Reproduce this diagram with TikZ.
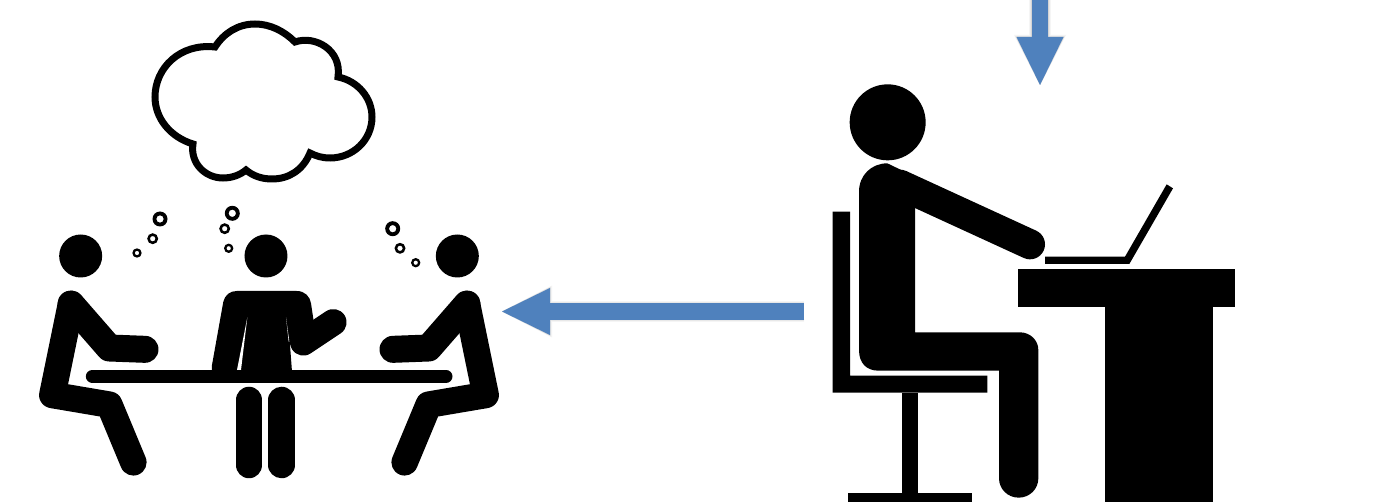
\documentclass[tikz,border=0pt]{standalone}
\usetikzlibrary{arrows.meta}
\definecolor{arrowblue}{HTML}{4F81BD}
\tikzset{
  ink/.style={fill=black,draw=none},
  limb/.style={draw=black,line cap=round,line join=round,line width=#1},
  limb/.default=26.5pt,
  ring/.style={fill=black,draw=none,even odd rule},
  cloudline/.style={draw=black,fill=white,line width=7pt,line join=miter},
  zoomA/.style={x=0.33333pt,y=-0.33333pt,shift={(0pt,-230pt)}},
  zoomB/.style={x=0.33333pt,y=-0.33333pt,shift={(800pt,0pt)}},
  blockarrow/.style={line width=16.5pt,-{Triangle[length=48pt,width=47pt,line width=0pt]}},
  shadowA/.style={draw=black!4,color=black!4,line width=21.5pt,-{Triangle[length=50pt,width=52pt,line width=0pt]}},
  shadowB/.style={draw=black!9,color=black!9,line width=19.5pt,-{Triangle[length=49pt,width=50pt,line width=0pt]}},
  shadowC/.style={draw=black!17,color=black!17,line width=17.5pt,-{Triangle[length=48pt,width=48pt,line width=0pt]}},
}
% one seated person at the table, in zoom coordinates
\newcommand{\sideperson}{%
  \fill (242,78) circle (64.5);
  \draw[limb] (213,222) -- (157,495) -- (328,524) -- (400,697);
  \draw[limb=27pt] (213,222) -- (328,354) -- (435,358);
}
\begin{document}
\begin{tikzpicture}[x=1pt,y=-1pt]
\useasboundingbox (0,0) rectangle (1375,502);
\clip (0,0) rectangle (1375,502);
\fill[white] (0,0) rectangle (1375,502);

% cloud
\path[cloudline] (193,144)
  .. controls (170,137) and (155,118) .. (155,97)
  .. controls (155,68) and (180,43) .. (215,47)
  .. controls (224,33) and (238,24) .. (255,24)
  .. controls (270,24) and (284,31) .. (295,42)
  .. controls (315,35) and (342,50) .. (338,77)
  .. controls (358,81) and (372,98) .. (372,117)
  .. controls (372,140) and (353,158) .. (330,158)
  .. controls (322,158) and (316,156) .. (310,153)
  .. controls (303,170) and (289,179) .. (272,179)
  .. controls (262,179) and (253,176) .. (246,170)
  .. controls (240,175) and (232,178) .. (223,178)
  .. controls (205,178) and (190,163) .. (193,144) -- cycle;

% thought bubbles
\foreach \x/\y/\o/\i in {160/219/7.5/3.7,152.7/238.7/5.5/2.7,137/253/4.7/2.2,
                      232.3/213.3/7.5/3.7,224.7/228.7/5.5/2.7,228.7/248.3/4.7/2.2,
                      392.7/228.7/7.5/3.7,400/248.3/5.5/2.7,415.7/262.7/4.7/2.2}
  \path[ring] (\x,\y) circle (\o) (\x,\y) circle (\i);

% table group
\begin{scope}[zoomA]
  \sideperson
  \begin{scope}[xscale=-1,xshift=-538pt]
    \sideperson
  \end{scope}
  % middle person
  \fill (798,78) circle (64.5);
  \path[ink] (636,425) -- (636,405) -- (670,215)
     .. controls (675,195) and (690,183) .. (710,183) -- (890,183)
     .. controls (915,183) and (930,200) .. (933,220)
     -- (945,300) -- (870,345) -- (876,425) -- cycle;
  \draw[limb=26.5pt] (910,337) -- (1000,277);
  \fill[white] (742,262) -- (711,420) -- (723,420) -- cycle;
  \fill[white] (858,262) -- (866,335) -- (868,335) -- cycle;
  % table top and legs
  \draw[limb=13pt] (277,439) -- (1338,439);
  \draw[limb=26.5pt] (747,510) -- (747,705);
  \draw[limb=26.5pt] (845,510) -- (845,705);
\end{scope}

% desk person
\begin{scope}[zoomB]
  \fill (263,367) circle (114);
  % chair
  \path[ink] (98,635) -- (150,635) -- (150,1127) -- (562,1127) -- (562,1178) -- (98,1178) -- cycle;
  \path[ink] (307,1178) rectangle (354,1480);
  \path[ink] (145,1480) rectangle (517,1505);
  % body
  \path[ink] (177,1050) -- (177,575)
     .. controls (177,525) and (215,490) .. (262,490) -- (345,530)
     -- (345,997) -- (660,997)
     .. controls (690,997) and (715,1020) .. (715,1050)
     -- (715,1435)
     .. controls (715,1467) and (689,1493) .. (656,1493)
     .. controls (623,1493) and (597,1467) .. (597,1435)
     -- (597,1112) -- (235,1112)
     .. controls (200,1112) and (177,1090) .. (177,1050) -- cycle;
  \draw[limb=30pt] (300,554) -- (690,733);
  % desk
  \path[ink] (655,806) rectangle (1305,922);
  \path[ink] (916,922) rectangle (1240,1505);
  % laptop
  \path[ink] (735,770) -- (975,770) -- (1100,553) -- (1119,565) -- (988,792) -- (735,792) -- cycle;
\end{scope}

% arrows
\coordinate (deskside) at (804,311.5);
\coordinate (tableside) at (502,311.5);
\coordinate (topfree) at (1040,-2);
\coordinate (deskhead) at (1040,85);
\foreach \s/\d in {shadowA/3,shadowB/2.5,shadowC/2}{
  \draw[\s,yshift=-\d pt] (deskside) -- (tableside);
  \draw[\s,yshift=-\d pt] (topfree) -- (deskhead);
}
\draw[blockarrow,draw=arrowblue,color=arrowblue] (deskside) -- (tableside);
\draw[blockarrow,draw=arrowblue,color=arrowblue] (topfree) -- (deskhead);
\end{tikzpicture}
\end{document}
